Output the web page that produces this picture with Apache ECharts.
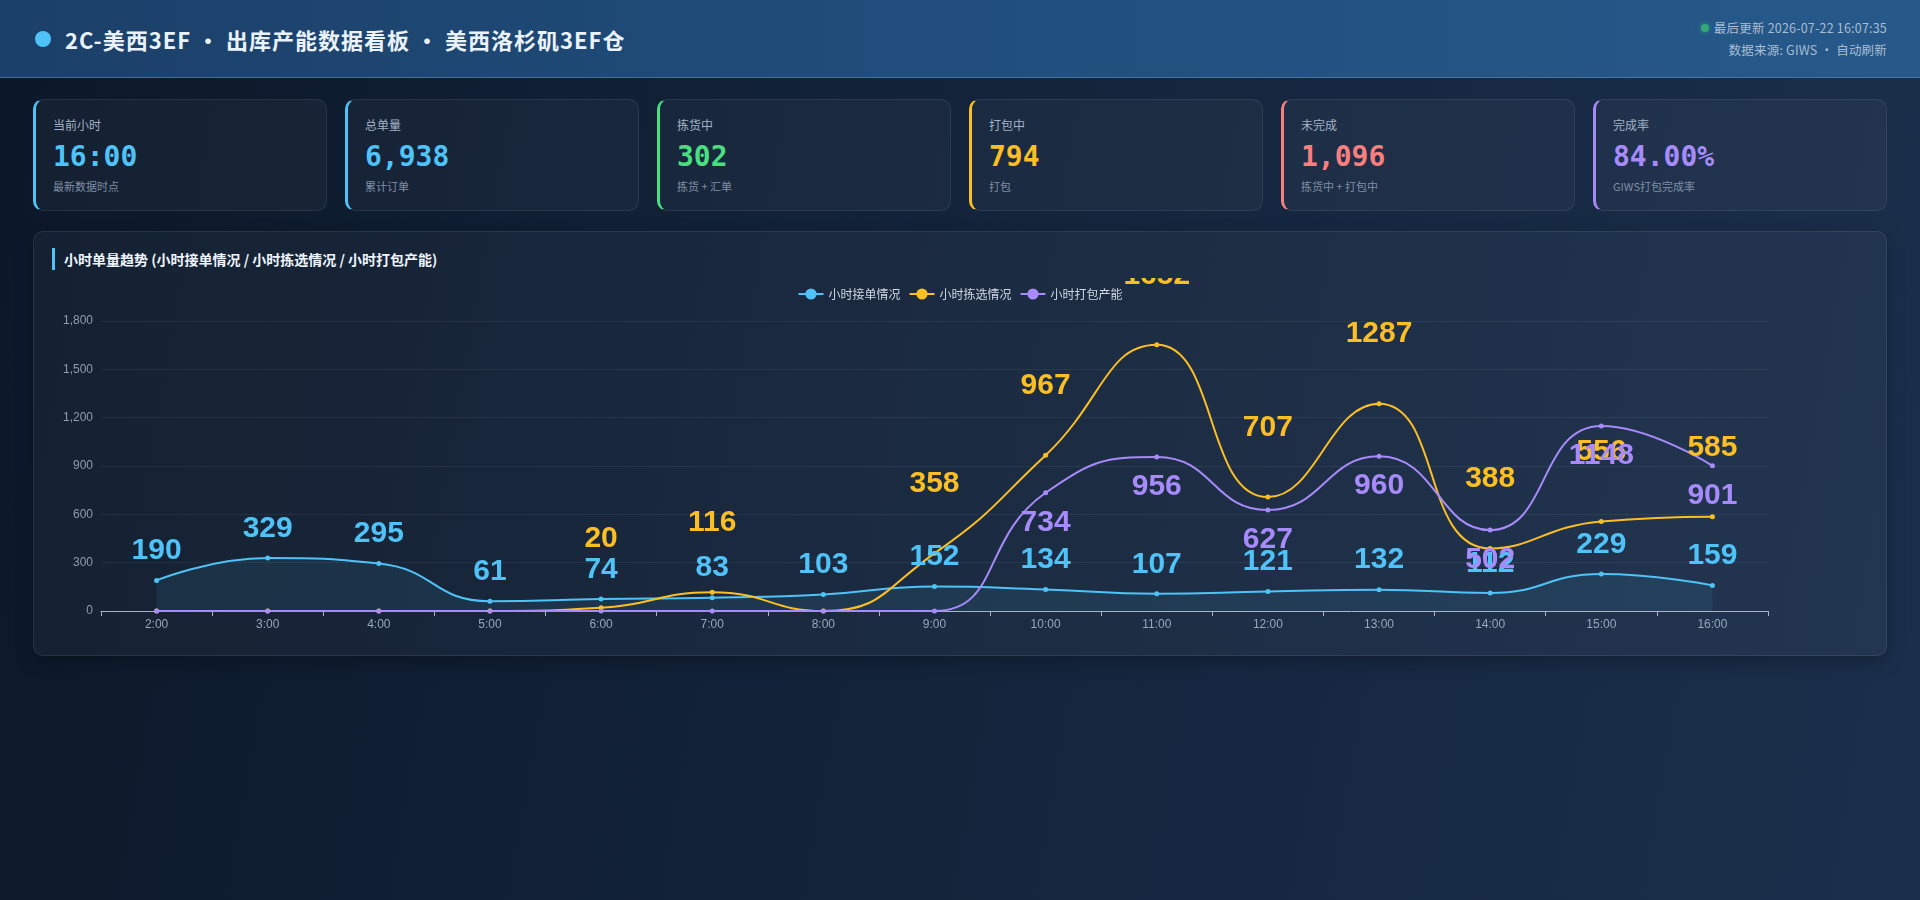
<!DOCTYPE html>
<html>

<head>
  <meta charset="utf-8">
  <script src="https://cdn.jsdelivr.net/npm/echarts@6/dist/echarts.min.js"></script>
  <style>
    * { box-sizing: border-box; }
    html, body { margin: 0; padding: 0; }
    body {
      width: 1920px;
      height: 900px;
      overflow: hidden;
      background: linear-gradient(100deg, #0c1829 0%, #13243b 50%, #1b2f4c 100%);
      font-family: "Noto Sans CJK SC", "Noto Sans", sans-serif;
      color: #e6eef8;
    }
    .header {
      height: 78px;
      padding: 0 33px 0 35px;
      display: flex;
      align-items: center;
      justify-content: space-between;
      background: linear-gradient(90deg, #1b4069 0%, #214f7e 55%, #26598a 100%);
      border-bottom: 1px solid rgba(110, 160, 215, 0.45);
    }
    .title { display: flex; align-items: center; font-size: 22px; font-weight: 700; color: #eaf2fb; letter-spacing: 1px; }
    .title .dot { width: 16px; height: 16px; border-radius: 50%; background: #4fc3f7; margin-right: 14px; }
    .meta { text-align: right; font-size: 12.5px; color: #a9bdd3; line-height: 22px; letter-spacing: 0.2px; }
    .meta .live { display: inline-block; width: 8px; height: 8px; border-radius: 50%; background: #34a877; margin-right: 5px; vertical-align: 1px; box-shadow: 0 0 5px rgba(52,185,127,0.6); }
    .cards {
      padding: 21px 33px 0 33px;
      display: grid;
      grid-template-columns: repeat(6, 1fr);
      column-gap: 18px;
    }
    .card {
      height: 112px;
      padding: 16px 18px 0 17px;
      border-radius: 10px;
      background: rgba(255, 255, 255, 0.035);
      border: 1px solid rgba(255, 255, 255, 0.08);
      border-left: 3px solid #4fc3f7;
    }
    .card .label { font-size: 12px; line-height: 18px; color: #a3b2c6; }
    .card .value { font-family: "DejaVu Sans Mono", monospace; font-weight: 700; font-size: 28px; line-height: 34px; margin-top: 6px; }
    .card .sub { font-size: 11px; line-height: 16px; margin-top: 4px; color: #7f8ea4; }
    .panel {
      margin: 20px 33px 0 33px;
      height: 425px;
      padding: 16px 18px;
      border-radius: 10px;
      background: rgba(255, 255, 255, 0.035);
      border: 1px solid rgba(255, 255, 255, 0.08);
      box-shadow: 0 6px 18px rgba(0, 0, 0, 0.25);
    }
    .panel h2 {
      margin: 0;
      font-size: 14px;
      line-height: 22px;
      font-weight: 700;
      color: #eef4fb;
      border-left: 3px solid #4fc3f7;
      padding-left: 9px;
      height: 22px;
    }
    #trend { width: 1816px; height: 363px; margin-top: 8px; }
  </style>
</head>

<body>
  <div class="header">
    <div class="title"><span class="dot"></span>2C-美西3EF · 出库产能数据看板 · 美西洛杉矶3EF仓</div>
    <div class="meta">
      <div><span class="live"></span>最后更新 2026-07-22 16:07:35</div>
      <div>数据来源: GIWS · 自动刷新</div>
    </div>
  </div>

  <div class="cards" id="cards"></div>

  <div class="panel">
    <h2>小时单量趋势 (小时接单情况 / 小时拣选情况 / 小时打包产能)</h2>
    <div id="trend"></div>
  </div>

  <script type="text/javascript">
    // 顶部指标卡
    var cardLabels = ['当前小时', '总单量', '拣货中', '打包中', '未完成', '完成率'];
    var cardValues = ['16:00', '6,938', '302', '794', '1,096', '84.00%'];
    var cardSubs = ['最新数据时点', '累计订单', '拣货 + 汇单', '打包', '拣货中 + 打包中', 'GIWS打包完成率'];
    var cardColors = ['#4fc3f7', '#4fc3f7', '#4ade80', '#fbbf24', '#f87f7f', '#a78bfa'];

    // 小时数据
    var hours = ['2:00', '3:00', '4:00', '5:00', '6:00', '7:00', '8:00', '9:00',
      '10:00', '11:00', '12:00', '13:00', '14:00', '15:00', '16:00'];
    var orderData = [190, 329, 295, 61, 74, 83, 103, 152, 134, 107, 121, 132, 112, 229, 159];
    var pickData = [0, 0, 0, 0, 20, 116, 0, 358, 967, 1652, 707, 1287, 388, 556, 585];
    var packData = [0, 0, 0, 0, 0, 0, 0, 0, 734, 956, 627, 960, 502, 1148, 901];
    var seriesNames = ['小时接单情况', '小时拣选情况', '小时打包产能'];
    var seriesColors = ['#4fc3f7', '#fbbf24', '#a78bfa'];

    var html = '';
    cardLabels.forEach(function (label, i) {
      html += '<div class="card" style="border-left-color:' + cardColors[i] + '">' +
        '<div class="label">' + label + '</div>' +
        '<div class="value" style="color:' + cardColors[i] + '">' + cardValues[i] + '</div>' +
        '<div class="sub">' + cardSubs[i] + '</div></div>';
    });
    document.getElementById('cards').innerHTML = html;

    // 0 不显示标签
    function hideZero(p) {
      return p.value === 0 ? '' : p.value;
    }

    function makeLabel(color, position, distance) {
      return {
        show: true,
        position: position,
        distance: distance,
        color: color,
        fontSize: 30,
        fontWeight: 'bold',
        formatter: hideZero
      };
    }

    var myChart = echarts.init(document.getElementById('trend'));
    var option = {
      backgroundColor: 'transparent',
      textStyle: { fontFamily: '"Liberation Sans", "Noto Sans CJK SC", sans-serif' },
      legend: {
        top: 5,
        data: seriesNames,
        textStyle: { color: '#cfd8e3', fontSize: 12, fontFamily: '"Noto Sans CJK SC", sans-serif' }
      },
      grid: { left: 49, right: 100, top: 43, bottom: 30 },
      xAxis: {
        type: 'category',
        data: hours,
        axisLine: { lineStyle: { color: '#a9b4c8' } },
        axisTick: { show: true, lineStyle: { color: '#a9b4c8' } },
        axisLabel: { color: '#98a6ba', fontSize: 12, margin: 8 }
      },
      yAxis: {
        type: 'value',
        min: 0,
        max: 1800,
        interval: 300,
        axisLine: { show: false },
        axisTick: { show: false },
        axisLabel: {
          color: '#8d9cb2',
          fontSize: 12,
          formatter: function (v) { return v.toLocaleString('en-US'); }
        },
        splitLine: { lineStyle: { color: 'rgba(255,255,255,0.06)' } }
      },
      series: [{
        name: seriesNames[0],
        type: 'line',
        smooth: true,
        symbol: 'circle',
        symbolSize: 5,
        data: orderData,
        itemStyle: { color: seriesColors[0] },
        lineStyle: { width: 2 },
        areaStyle: { color: 'rgba(79,195,247,0.13)' },
        label: makeLabel(seriesColors[0], 'top', 12)
      }, {
        name: seriesNames[1],
        type: 'line',
        smooth: true,
        symbol: 'circle',
        symbolSize: 5,
        data: pickData,
        itemStyle: { color: seriesColors[1] },
        lineStyle: { width: 2 },
        label: makeLabel(seriesColors[1], 'top', 52)
      }, {
        name: seriesNames[2],
        type: 'line',
        smooth: true,
        symbol: 'circle',
        symbolSize: 5,
        data: packData,
        itemStyle: { color: seriesColors[2] },
        lineStyle: { width: 2 },
        label: makeLabel(seriesColors[2], 'bottom', 12)
      }]
    };
    myChart.setOption(option);
  </script>
</body>

</html>
